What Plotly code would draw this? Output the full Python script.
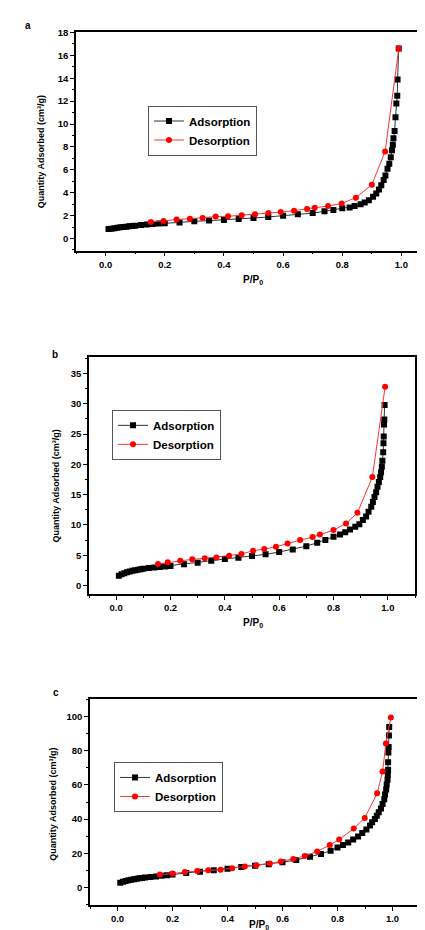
import plotly.graph_objects as go

W, H = 425, 930

# ---------------- data ----------------
A_ads_x = [0.01,0.02,0.03,0.04,0.05,0.06,0.07,0.08,0.09,0.10,0.12,0.14,0.16,0.18,0.20,
           0.25,0.30,0.35,0.40,0.45,0.50,0.55,0.60,0.65,0.70,0.74,0.77,0.80,
           0.825,0.842,0.862,0.876,0.89,0.904,0.915,0.924,0.932,0.94,
           0.946,0.953,0.959,0.964,0.968,0.971,0.973,0.977,0.980,0.983,
           0.986,0.987,0.991]
A_ads_y = [0.82,0.86,0.90,0.94,0.97,1.00,1.03,1.06,1.09,1.12,1.17,1.21,1.26,1.30,1.34,
           1.40,1.50,1.56,1.62,1.70,1.79,1.88,1.99,2.11,2.22,2.37,2.49,2.63,
           2.71,2.83,2.98,3.15,3.35,3.64,3.93,4.28,4.65,5.1,
           5.5,6.1,6.53,7.1,7.7,8.18,8.76,9.4,10.6,11.8,
           12.46,13.9,16.6]
A_des_x = [0.991,0.945,0.900,0.846,0.798,0.752,0.707,0.681,0.637,0.592,0.550,0.505,
           0.460,0.414,0.372,0.328,0.285,0.240,0.196,0.153]
A_des_y = [16.6,7.6,4.7,3.56,3.06,2.83,2.69,2.57,2.43,2.31,2.22,2.11,
           2.02,1.94,1.91,1.79,1.73,1.65,1.53,1.45]

B_ads_x = [0.01,0.02,0.03,0.04,0.05,0.06,0.07,0.08,0.09,0.10,0.12,0.14,0.16,0.18,0.20,
           0.25,0.30,0.35,0.40,0.45,0.50,0.55,0.60,0.65,0.70,0.74,0.77,0.80,
           0.824,0.843,0.861,0.88,0.895,0.908,0.92,0.929,0.939,0.945,0.951,0.957,
           0.962,0.967,0.972,0.975,0.978,0.98,0.983,0.984,0.985,0.986,0.987,0.988]
B_ads_y = [1.6,1.85,2.05,2.2,2.32,2.43,2.53,2.62,2.7,2.78,2.88,2.97,3.06,3.15,3.23,
           3.5,3.78,4.1,4.38,4.6,4.87,5.15,5.53,5.97,6.5,7.06,7.5,8.05,
           8.43,8.8,9.25,9.7,10.1,10.8,11.4,12.2,13.0,13.8,14.6,15.4,
           16.3,17.1,17.9,18.7,19.6,20.6,22.0,23.5,24.6,26.6,27.4,29.8]
B_des_x = [0.990,0.943,0.888,0.846,0.800,0.750,0.723,0.677,0.631,0.588,0.545,0.504,
           0.461,0.416,0.369,0.326,0.280,0.236,0.190,0.154]
B_des_y = [32.8,17.9,12.0,10.24,9.15,8.43,8.0,7.5,6.95,6.4,6.02,5.75,
           5.2,4.93,4.65,4.49,4.33,4.1,3.83,3.56]

C_ads_x = [0.01,0.02,0.03,0.04,0.05,0.06,0.07,0.08,0.09,0.10,0.12,0.14,0.16,0.18,0.20,
           0.25,0.30,0.35,0.40,0.45,0.50,0.55,0.60,0.65,0.70,0.74,0.775,0.80,
           0.82,0.839,0.857,0.875,0.89,0.905,0.918,0.926,0.936,0.943,0.95,0.958,
           0.964,0.97,0.973,0.977,0.979,0.982,0.983,0.984,0.984,0.985,0.986,0.987,0.988]
C_ads_y = [2.7,3.3,3.8,4.2,4.55,4.85,5.1,5.35,5.55,5.75,6.1,6.45,6.8,7.1,7.5,
           8.4,9.2,10.0,10.9,11.9,12.7,13.6,14.8,16.1,18.0,19.6,21.5,23.4,
           24.8,26.3,28.0,29.9,31.9,34.0,36.3,38.2,40.1,42.0,44.0,46.3,
           48.8,51.6,54.5,57.4,60.3,63.1,66.0,68.9,73.3,79.1,82.3,89.0,93.9]
C_des_x = [0.994,0.976,0.964,0.944,0.899,0.859,0.806,0.772,0.726,0.681,0.639,0.594,
           0.554,0.505,0.463,0.417,0.375,0.330,0.290,0.245,0.200,0.154]
C_des_y = [99.6,84.3,67.9,55.1,40.7,34.5,28.0,24.8,21.1,18.4,16.7,15.2,
           14.0,13.0,12.3,11.3,10.4,10.0,9.6,9.0,8.1,7.5]

panels = [
    dict(label="a", ads=(A_ads_x, A_ads_y), des=(A_des_x, A_des_y),
         yr=[-1.07, 18.05], dt=2, mdt=1, box=(68, 423, 19, 239),
         leg=(140, 93), xt=(245, 268), yt=(33, 140), lab=(20, 13)),
    dict(label="b", ads=(B_ads_x, B_ads_y), des=(B_des_x, B_des_y),
         yr=[-1.37, 37.7], dt=5, mdt=2.5, box=(81, 407, 346, 584),
         leg=(104, 399), xt=(245, 613), yt=(48, 476), lab=(47, 343)),
    dict(label="c", ads=(C_ads_x, C_ads_y), des=(C_des_x, C_des_y),
         yr=[-10.4, 110.2], dt=20, mdt=10, box=(82, 412, 690, 897),
         leg=(106, 753), xt=(251, 917), yt=(45, 796), lab=(48, 683)),
]

FONT = "Liberation Sans"
fig = go.Figure()
layout = dict(width=W, height=H, margin=dict(l=0, r=0, t=0, b=0),
              paper_bgcolor="white", plot_bgcolor="white", showlegend=True,
              font=dict(family=FONT, color="black"))
annotations = []

def px(x):
    return x / W

def py(y):
    return 1 - y / H

for i, p in enumerate(panels):
    n = "" if i == 0 else str(i + 1)
    xa, ya = "x" + n, "y" + n
    lg = "legend" + n
    fig.add_trace(go.Scatter(x=p["ads"][0], y=p["ads"][1], mode="lines+markers",
                             name="Adsorption", xaxis=xa, yaxis=ya, legend=lg,
                             line=dict(color="#333333", width=1),
                             marker=dict(symbol="square", size=6, color="black")))
    fig.add_trace(go.Scatter(x=p["des"][0], y=p["des"][1], mode="lines+markers",
                             name="Desorption", xaxis=xa, yaxis=ya, legend=lg,
                             line=dict(color="#ff3333", width=1),
                             marker=dict(symbol="circle", size=6, color="#ff0000")))
    l, r, t, b = p["box"]
    common = dict(showline=True, linecolor="black", linewidth=1.5, mirror=True,
                  showgrid=False, zeroline=False, ticks="outside", ticklen=4,
                  tickwidth=1.2, tickcolor="black",
                  tickfont=dict(family=FONT, size=9.5, color="black", weight="bold"))
    layout["xaxis" + n] = dict(common, domain=[px(l), px(r)], range=[-0.1, 1.1],
                               anchor=ya, tick0=0, dtick=0.2, tickformat=".1f",
                               minor=dict(ticks="outside", ticklen=2, dtick=0.1,
                                          tick0=0, tickcolor="black", tickwidth=1))
    layout["yaxis" + n] = dict(common, domain=[py(b), py(t)], range=p["yr"],
                               anchor=xa, tick0=0, dtick=p["dt"],
                               minor=dict(ticks="outside", ticklen=2, dtick=p["mdt"],
                                          tick0=0, tickcolor="black", tickwidth=1))
    layout[lg] = dict(x=px(p["leg"][0]), y=py(p["leg"][1]), xanchor="left",
                      yanchor="top", bgcolor="white", bordercolor="#555555",
                      borderwidth=1, font=dict(family=FONT, size=11.5, color="black",
                                               weight="bold"),
                      tracegroupgap=0, itemwidth=30)
    annotations.append(dict(text="P/P<sub>0</sub>", x=px(p["xt"][0]), y=py(p["xt"][1]),
                            xref="paper", yref="paper", showarrow=False,
                            xanchor="center", yanchor="middle",
                            font=dict(family=FONT, size=10, weight="bold")))
    annotations.append(dict(text="Quantity Adsorbed (cm³/g)", x=px(p["yt"][0]),
                            y=py(p["yt"][1]), xref="paper", yref="paper",
                            showarrow=False, textangle=-90,
                            xanchor="center", yanchor="middle",
                            font=dict(family=FONT, size=9, weight="bold")))
    annotations.append(dict(text=p["label"], x=px(p["lab"][0]), y=py(p["lab"][1]),
                            xref="paper", yref="paper", showarrow=False,
                            xanchor="center", yanchor="middle",
                            font=dict(family=FONT, size=10, weight="bold")))

layout["annotations"] = annotations
fig.update_layout(**layout)
fig.write_html("out.html")
